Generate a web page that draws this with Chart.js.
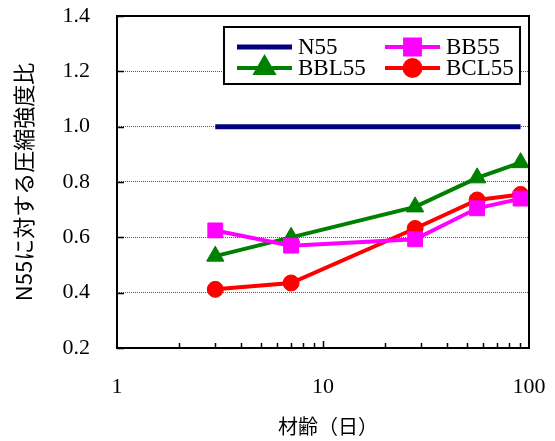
<!DOCTYPE html>
<html>
<head>
<meta charset="utf-8">
<script src="https://cdn.jsdelivr.net/npm/chart.js@4"></script>
<style>
  html, body { margin: 0; padding: 0; background: #fff; }
  #wrap { width: 555px; height: 441px; }
</style>
</head>
<body>
<div id="wrap"><canvas id="chart" width="555" height="441"></canvas></div>
<script>
// ages in days
const ages = [3, 7, 28, 56, 91];
const n55 = [1.0, 1.0, 1.0, 1.0, 1.0];
const bb55 = [0.625, 0.57, 0.593, 0.705, 0.74];
const bbl55 = [0.532, 0.60, 0.71, 0.815, 0.87];
const bcl55 = [0.412, 0.435, 0.632, 0.735, 0.755];

const seriesNames = ["N55", "BB55", "BBL55", "BCL55"];
const yTicks = [0.2, 0.4, 0.6, 0.8, 1.0, 1.2, 1.4];
const xLabels = [1, 10, 100];
const xMinor = [2, 3, 4, 5, 6, 7, 8, 9, 10, 20, 30, 40, 50, 60, 70, 80, 90];

const serif = "'Liberation Serif', 'Times New Roman', serif";
const jp = "'Noto Sans CJK JP', sans-serif";

function pts(vals) {
  return ages.map((a, i) => ({ x: a, y: vals[i] }));
}

// no extra room for the end labels, the layout padding covers them
function noPad(scale) {
  scale.paddingTop = 0;
  scale.paddingBottom = 0;
  scale.paddingLeft = 0;
  scale.paddingRight = 0;
}

// box, inward ticks and the legend drawn on top
const framePlugin = {
  id: "frame",
  afterDatasetsDraw(chart) {
    const { ctx, chartArea: a, scales } = chart;
    const xs = scales.x, ys = scales.y;
    ctx.save();
    ctx.strokeStyle = "#000";
    ctx.lineWidth = 1.5;
    ctx.beginPath();
    xMinor.forEach(v => {
      const px = Math.round(xs.getPixelForValue(v)) + 0.5;
      const len = v === 10 ? 7 : 5;
      ctx.moveTo(px, a.bottom);
      ctx.lineTo(px, a.bottom - len);
    });
    yTicks.forEach(v => {
      const py = Math.round(ys.getPixelForValue(v)) + 0.5;
      ctx.moveTo(a.left, py);
      ctx.lineTo(a.left + 7, py);
    });
    ctx.stroke();

    ctx.lineWidth = 2;
    ctx.strokeRect(a.left, a.top, a.right - a.left, a.bottom - a.top);

    // legend
    const lx = 224, ly = 27, lw = 296, lh = 57;
    ctx.fillStyle = "#fff";
    ctx.fillRect(lx, ly, lw, lh);
    ctx.strokeRect(lx, ly, lw, lh);
    const slots = [
      { ds: 0, x: 237, y: 47 },
      { ds: 1, x: 385, y: 47 },
      { ds: 2, x: 237, y: 68 },
      { ds: 3, x: 385, y: 68 }
    ];
    slots.forEach(s => {
      const ds = chart.data.datasets[s.ds];
      ctx.strokeStyle = ds.borderColor;
      ctx.lineWidth = ds.borderWidth;
      ctx.beginPath();
      ctx.moveTo(s.x, s.y);
      ctx.lineTo(s.x + 55, s.y);
      ctx.stroke();
      if (ds.pointRadius > 0) {
        Chart.helpers.drawPoint(ctx, {
          pointStyle: ds.pointStyle, radius: ds.pointRadius,
          borderWidth: 1, rotation: 0
        }, s.x + 27.5, s.y);
        ctx.fillStyle = ds.pointBackgroundColor;
        ctx.fill();
      }
      ctx.fillStyle = "#000";
      ctx.font = "23px " + serif;
      ctx.textBaseline = "middle";
      ctx.textAlign = "left";
      ctx.fillText(seriesNames[s.ds], s.x + 61, s.y + 1);
    });
    ctx.restore();
  }
};

new Chart(document.getElementById("chart"), {
  type: "line",
  data: {
    datasets: [
      {
        label: seriesNames[0], data: pts(n55),
        borderColor: "#000080", borderWidth: 5, pointRadius: 0
      },
      {
        label: seriesNames[1], data: pts(bb55),
        borderColor: "#ff00ff", borderWidth: 4,
        pointStyle: "rect", pointRadius: 10.5,
        pointBackgroundColor: "#ff00ff", pointBorderColor: "#ff00ff", pointBorderWidth: 1
      },
      {
        label: seriesNames[2], data: pts(bbl55),
        borderColor: "#008000", borderWidth: 4,
        pointStyle: "triangle", pointRadius: 10,
        pointBackgroundColor: "#008000", pointBorderColor: "#008000", pointBorderWidth: 1
      },
      {
        label: seriesNames[3], data: pts(bcl55),
        borderColor: "#ff0000", borderWidth: 4,
        pointStyle: "circle", pointRadius: 8,
        pointBackgroundColor: "#ff0000", pointBorderColor: "#ff0000", pointBorderWidth: 1
      }
    ]
  },
  options: {
    responsive: false,
    animation: false,
    layout: { padding: { top: 16, right: 26, left: 0, bottom: 0 } },
    plugins: { legend: { display: false }, tooltip: { enabled: false } },
    scales: {
      x: {
        type: "logarithmic",
        min: 1, max: 100,
        afterFit(scale) { scale.height = 93; noPad(scale); },
        grid: { display: false, drawTicks: false },
        border: { display: false },
        ticks: {
          autoSkip: false, maxRotation: 0, padding: 26,
          color: "#000", font: { family: serif, size: 22 },
          callback: v => (xLabels.includes(v) ? String(v) : "")
        },
        title: {
          display: true, text: "\u2002材齢（日）", color: "#000",
          font: { family: jp, size: 20 }, padding: { top: 0, bottom: 3 }
        }
      },
      y: {
        min: 0.2, max: 1.4,
        afterFit(scale) { scale.width = 117; noPad(scale); },
        grid: { color: "#555", lineWidth: 1, drawTicks: false },
        border: { display: false, dash: [1, 1] },
        ticks: {
          stepSize: 0.2, padding: 27,
          color: "#000", font: { family: serif, size: 22 },
          callback: v => v.toFixed(1)
        },
        title: {
          display: true, text: "N55に対する圧縮強度比", color: "#000",
          font: { family: jp, size: 22 }, padding: { top: 10, bottom: 0 }
        }
      }
    }
  },
  plugins: [framePlugin]
});
</script>
</body>
</html>
